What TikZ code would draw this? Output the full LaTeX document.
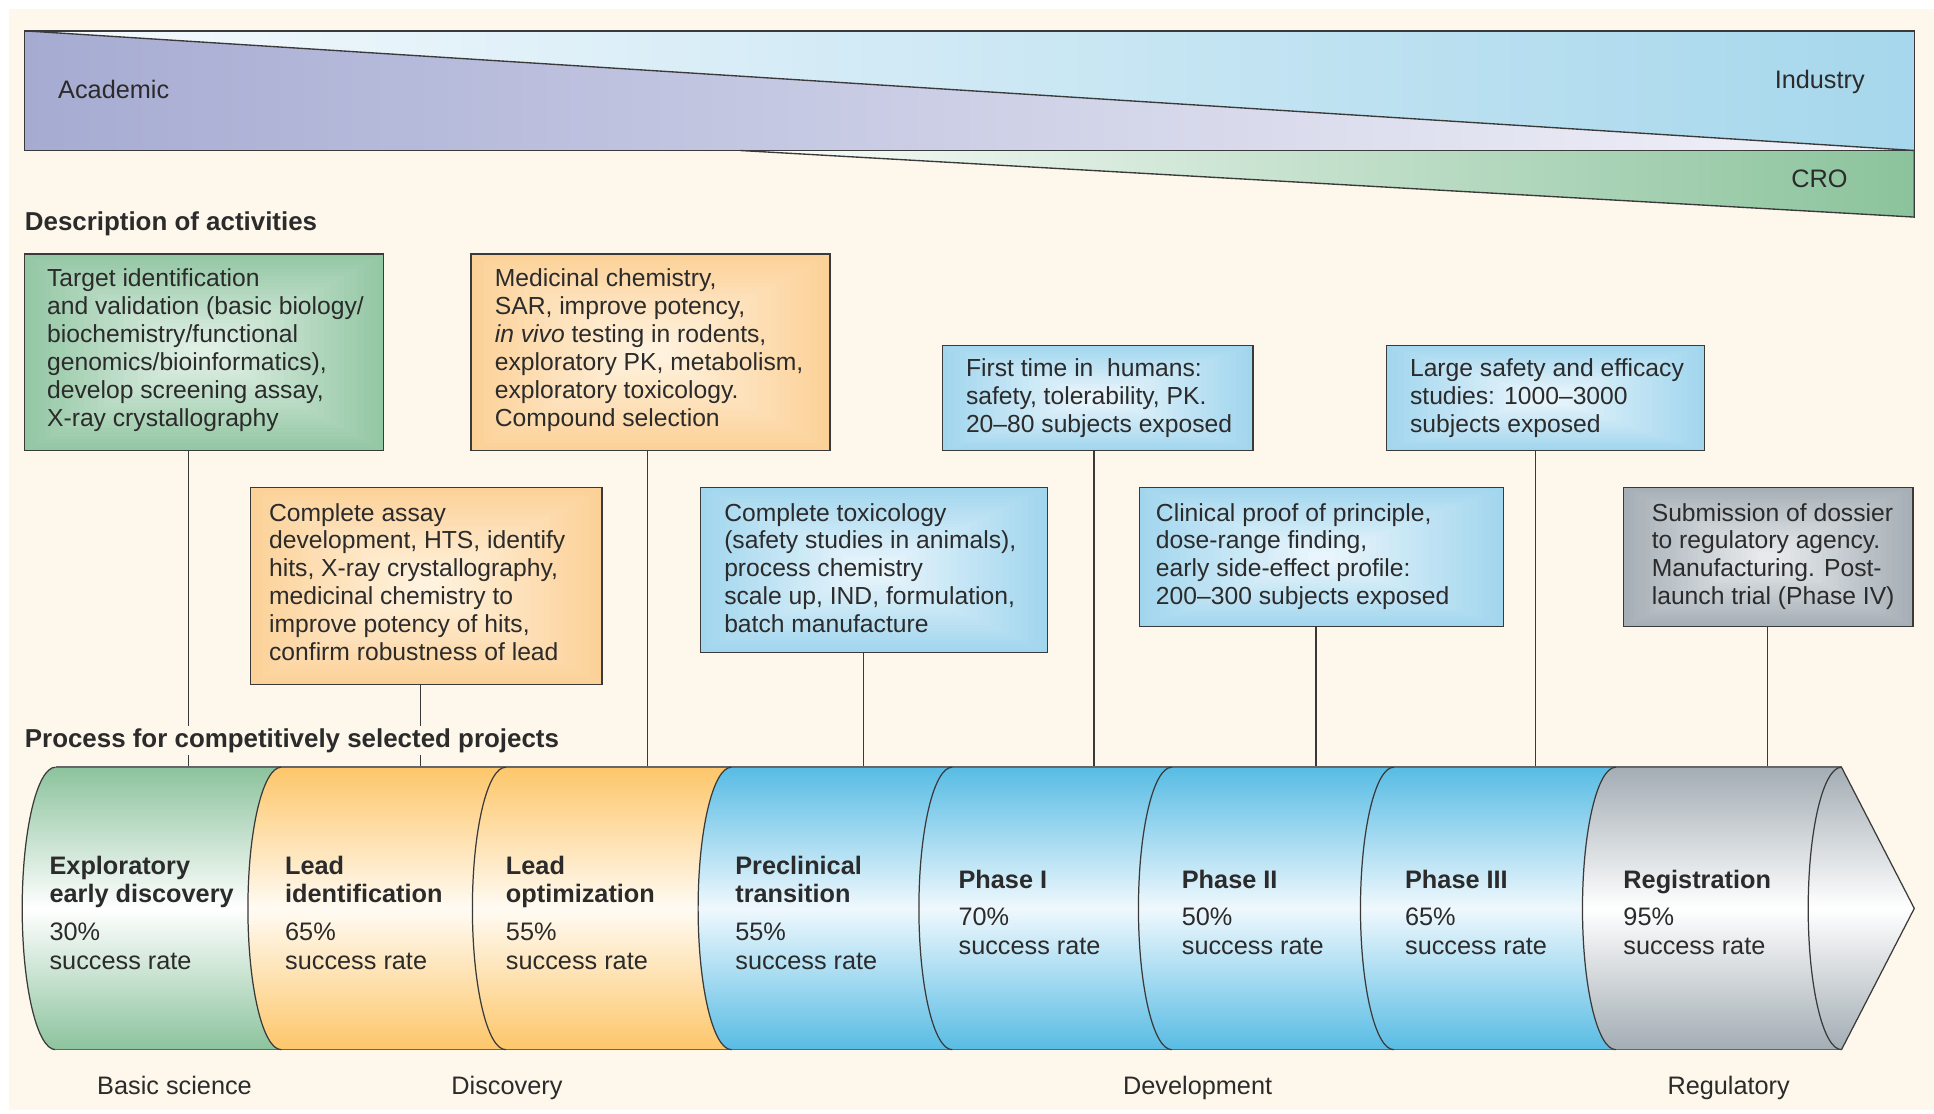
\documentclass[tikz,border=0pt]{standalone}
\usepackage{fontspec}
\setmainfont{Liberation Sans}
\definecolor{cream}{HTML}{FEF7EB}
\definecolor{ink}{HTML}{2B2B2B}
\definecolor{edge}{HTML}{3A3A3A}
\definecolor{acadL}{HTML}{A6ABD2}
\definecolor{acadR}{HTML}{F4F4FA}
\definecolor{indL}{HTML}{F6FAFD}
\definecolor{indR}{HTML}{A6D7EC}
\definecolor{croL}{HTML}{FBFDFB}
\definecolor{croR}{HTML}{8BC39C}
\definecolor{gBoxO}{HTML}{94C7A4}
\definecolor{gBoxI}{HTML}{E2F1E7}
\definecolor{oBoxO}{HTML}{FCD198}
\definecolor{oBoxI}{HTML}{FFF3E0}
\definecolor{bBoxO}{HTML}{A2D6EE}
\definecolor{bBoxI}{HTML}{EAF6FC}
\definecolor{sBoxO}{HTML}{A6AFB6}
\definecolor{sBoxI}{HTML}{E8EBED}
\definecolor{gPipe}{HTML}{8CC39D}
\definecolor{oPipe}{HTML}{FDC66A}
\definecolor{bPipe}{HTML}{58BCE4}
\definecolor{sPipe}{HTML}{A3ADB4}
\definecolor{oMid}{HTML}{FFFBF3}
\definecolor{bMid}{HTML}{EFF8FD}
\tikzset{
  txt/.style={font=\fontsize{20}{22.6}\selectfont, text=ink, inner sep=0pt, align=left, anchor=north west},
  lbl/.style={font=\fontsize{20.5}{23}\selectfont, text=ink, inner sep=0pt},
  head/.style={font=\fontsize{21}{24}\selectfont\bfseries, text=ink, fill=cream, inner sep=2pt, anchor=base west},
  stage/.style={font=\fontsize{20.5}{23}\selectfont, text=ink, inner sep=0pt, align=left, anchor=north west},
  boxgeom/.style={inner sep=0pt, outer sep=0pt},
  dbox/.style={draw=edge, line width=1.1pt},
  conn/.style={draw=edge, line width=1.1pt},
  segline/.style={draw=edge, line width=1pt},
  pipeline/.style={draw=black!60, line width=1.2pt},
  bandline/.style={draw=edge, line width=1.1pt}
}
% name, cx, cy, w, h, inner colour, outer colour
\newcommand\descbox[7]{%
  \node[boxgeom, minimum width=#4, minimum height=#5] (#1) at (#2,#3) {};
  \foreach \i in {0,...,25}{%
    \pgfmathsetmacro\pmix{\i*3.9}%
    \fill[#6!\pmix!#7] (#2-#4/2+\i*#4/54, #3-#5/2+\i*#5/54) rectangle (#2+#4/2-\i*#4/54, #3+#5/2-\i*#5/54);
  }
  \draw[dbox] (#1.south west) rectangle (#1.north east);
}
\begin{document}
\begin{tikzpicture}[x=1pt,y=1pt]
\useasboundingbox (0,0) rectangle (1568,-903);
\fill[white] (0,0) rectangle (1568,-903);
\fill[cream] (7,-7) rectangle (1568,-900);

% ---- top band ----
\shade[left color=acadL, right color=acadR] (20,-25) -- (1552,-122) -- (20,-122) -- cycle;
\shade[left color=indL, right color=indR] (20,-25) -- (1552,-25) -- (1552,-122) -- cycle;
\shade[left color=croL, right color=croR] (600,-122) -- (1552,-122) -- (1552,-176) -- cycle;
\draw[bandline] (20,-25) rectangle (1552,-122);
\draw[bandline] (20,-25) -- (1552,-122);
\draw[bandline] (600,-122) -- (1552,-176) -- (1552,-122);
\node[lbl, anchor=base west] (academic) at (47,-80) {Academic};
\node[lbl, anchor=base east] (industry) at (1512,-72) {Industry};
\node[lbl, anchor=base east] (cro) at (1498,-152) {CRO};

\node[head] (desc) at (18,-187) {Description of activities};

% ---- description boxes ----
\descbox{b1}{165.5}{-285.5}{291}{159}{gBoxI}{gBoxO}
\descbox{b2}{527.5}{-285.5}{291}{159}{oBoxI}{oBoxO}
\descbox{b3}{345.5}{-475}{285}{160}{oBoxI}{oBoxO}
\descbox{b4}{708.5}{-462}{281}{134}{bBoxI}{bBoxO}
\descbox{b5}{890}{-322.5}{252}{85}{bBoxI}{bBoxO}
\descbox{b6}{1071.5}{-451.5}{295}{113}{bBoxI}{bBoxO}
\descbox{b7}{1253}{-322.5}{258}{85}{bBoxI}{bBoxO}
\descbox{b8}{1433.5}{-451.5}{235}{113}{sBoxI}{sBoxO}

\node[txt] (t1) at (38,-217.8) {Target identification\\and validation (basic biology/\\biochemistry/functional\\genomics/bioinformatics),\\develop screening assay,\\X-ray crystallography};
\node[txt] (t2) at (401,-217.8) {Medicinal chemistry,\\SAR, improve potency,\\\textit{in vivo} testing in rodents,\\exploratory PK, metabolism,\\exploratory toxicology.\\Compound selection};
\node[txt] (t3) at (218,-407.8) {Complete assay\\development, HTS, identify\\hits, X-ray crystallography,\\medicinal chemistry to\\improve potency of hits,\\confirm robustness of lead};
\node[txt] (t4) at (587,-407.8) {Complete toxicology\\(safety studies in animals),\\process chemistry\\scale up, IND, formulation,\\batch manufacture};
\node[txt] (t5) at (783,-290.8) {First time in~ humans:\\safety, tolerability, PK.\\20--80 subjects exposed};
\node[txt] (t6) at (937,-407.8) {Clinical proof of principle,\\dose-range finding,\\early side-effect profile:\\200--300 subjects exposed};
\node[txt] (t7) at (1143,-290.8) {Large safety and efficacy\\studies: 1000--3000\\subjects exposed};
\node[txt] (t8) at (1339,-407.8) {Submission of dossier\\to regulatory agency.\\Manufacturing. Post-\\launch trial (Phase IV)};

% ---- connectors ----
\coordinate (c1) at (153,-622);
\coordinate (c2) at (341,-622);
\coordinate (c3) at (525,-622);
\coordinate (c4) at (700,-622);
\coordinate (c5) at (887,-622);
\coordinate (c6) at (1067,-622);
\coordinate (c7) at (1245,-622);
\coordinate (c8) at (1433,-622);
\draw[conn] (b1.south -| c1) -- (c1);
\draw[conn] (b3.south -| c2) -- (c2);
\draw[conn] (b2.south -| c3) -- (c3);
\draw[conn] (b4.south -| c4) -- (c4);
\draw[conn] (b5.south -| c5) -- (c5);
\draw[conn] (b6.south -| c6) -- (c6);
\draw[conn] (b7.south -| c7) -- (c7);
\draw[conn] (b8.south -| c8) -- (c8);

\node[head] (proc) at (18,-606) {Process for competitively selected projects};

% ---- pipe ----
\foreach \a/\b/\col/\mid in {45/228/gPipe/white, 228/410/oPipe/oMid, 410/593/oPipe/oMid, 593/772/bPipe/bMid, 772/950/bPipe/bMid, 950/1130/bPipe/bMid, 1130/1310/bPipe/bMid}{
  \shade[top color=\col, bottom color=\col, middle color=\mid]
    (\a,-622) arc[start angle=90, end angle=270, x radius=27, y radius=114.5]
    -- (\b,-851) arc[start angle=270, end angle=90, x radius=27, y radius=114.5] -- cycle;
}
\shade[top color=sPipe, bottom color=sPipe, middle color=white]
  (1310,-622) arc[start angle=90, end angle=270, x radius=27, y radius=114.5]
  -- (1493,-851) -- (1552,-736.5) -- (1493,-622) -- cycle;
\draw[pipeline] (45,-622) -- (1493,-622);
\draw[pipeline] (45,-851) -- (1493,-851);
\foreach \a in {45,228,410,593,772,950,1130,1310,1493}{
  \draw[segline] (\a,-622) arc[start angle=90, end angle=270, x radius=27, y radius=114.5];
}
\draw[segline] (1493,-622) -- (1552,-736.5) -- (1493,-851);

% ---- stage texts ----
\node[stage] (s1) at (40,-693.6) {\textbf{Exploratory}\\\textbf{early discovery}\\[8pt]30\%\\success rate};
\node[stage] (s2) at (231,-693.6) {\textbf{Lead}\\\textbf{identification}\\[8pt]65\%\\success rate};
\node[stage] (s3) at (410,-693.6) {\textbf{Lead}\\\textbf{optimization}\\[8pt]55\%\\success rate};
\node[stage] (s4) at (596,-693.6) {\textbf{Preclinical}\\\textbf{transition}\\[8pt]55\%\\success rate};
\node[stage] (s5) at (777,-705.6) {\textbf{Phase I}\\[7pt]70\%\\success rate};
\node[stage] (s6) at (958,-705.6) {\textbf{Phase II}\\[7pt]50\%\\success rate};
\node[stage] (s7) at (1139,-705.6) {\textbf{Phase III}\\[7pt]65\%\\success rate};
\node[stage] (s8) at (1316,-705.6) {\textbf{Registration}\\[7pt]95\%\\success rate};

% ---- bottom labels ----
\node[lbl, anchor=base] (basic) at (141.5,-887) {Basic science};
\node[lbl, anchor=base] (disc) at (411,-887) {Discovery};
\node[lbl, anchor=base] (dev) at (971,-887) {Development};
\node[lbl, anchor=base] (reg) at (1401.5,-887) {Regulatory};
\end{tikzpicture}
\end{document}
